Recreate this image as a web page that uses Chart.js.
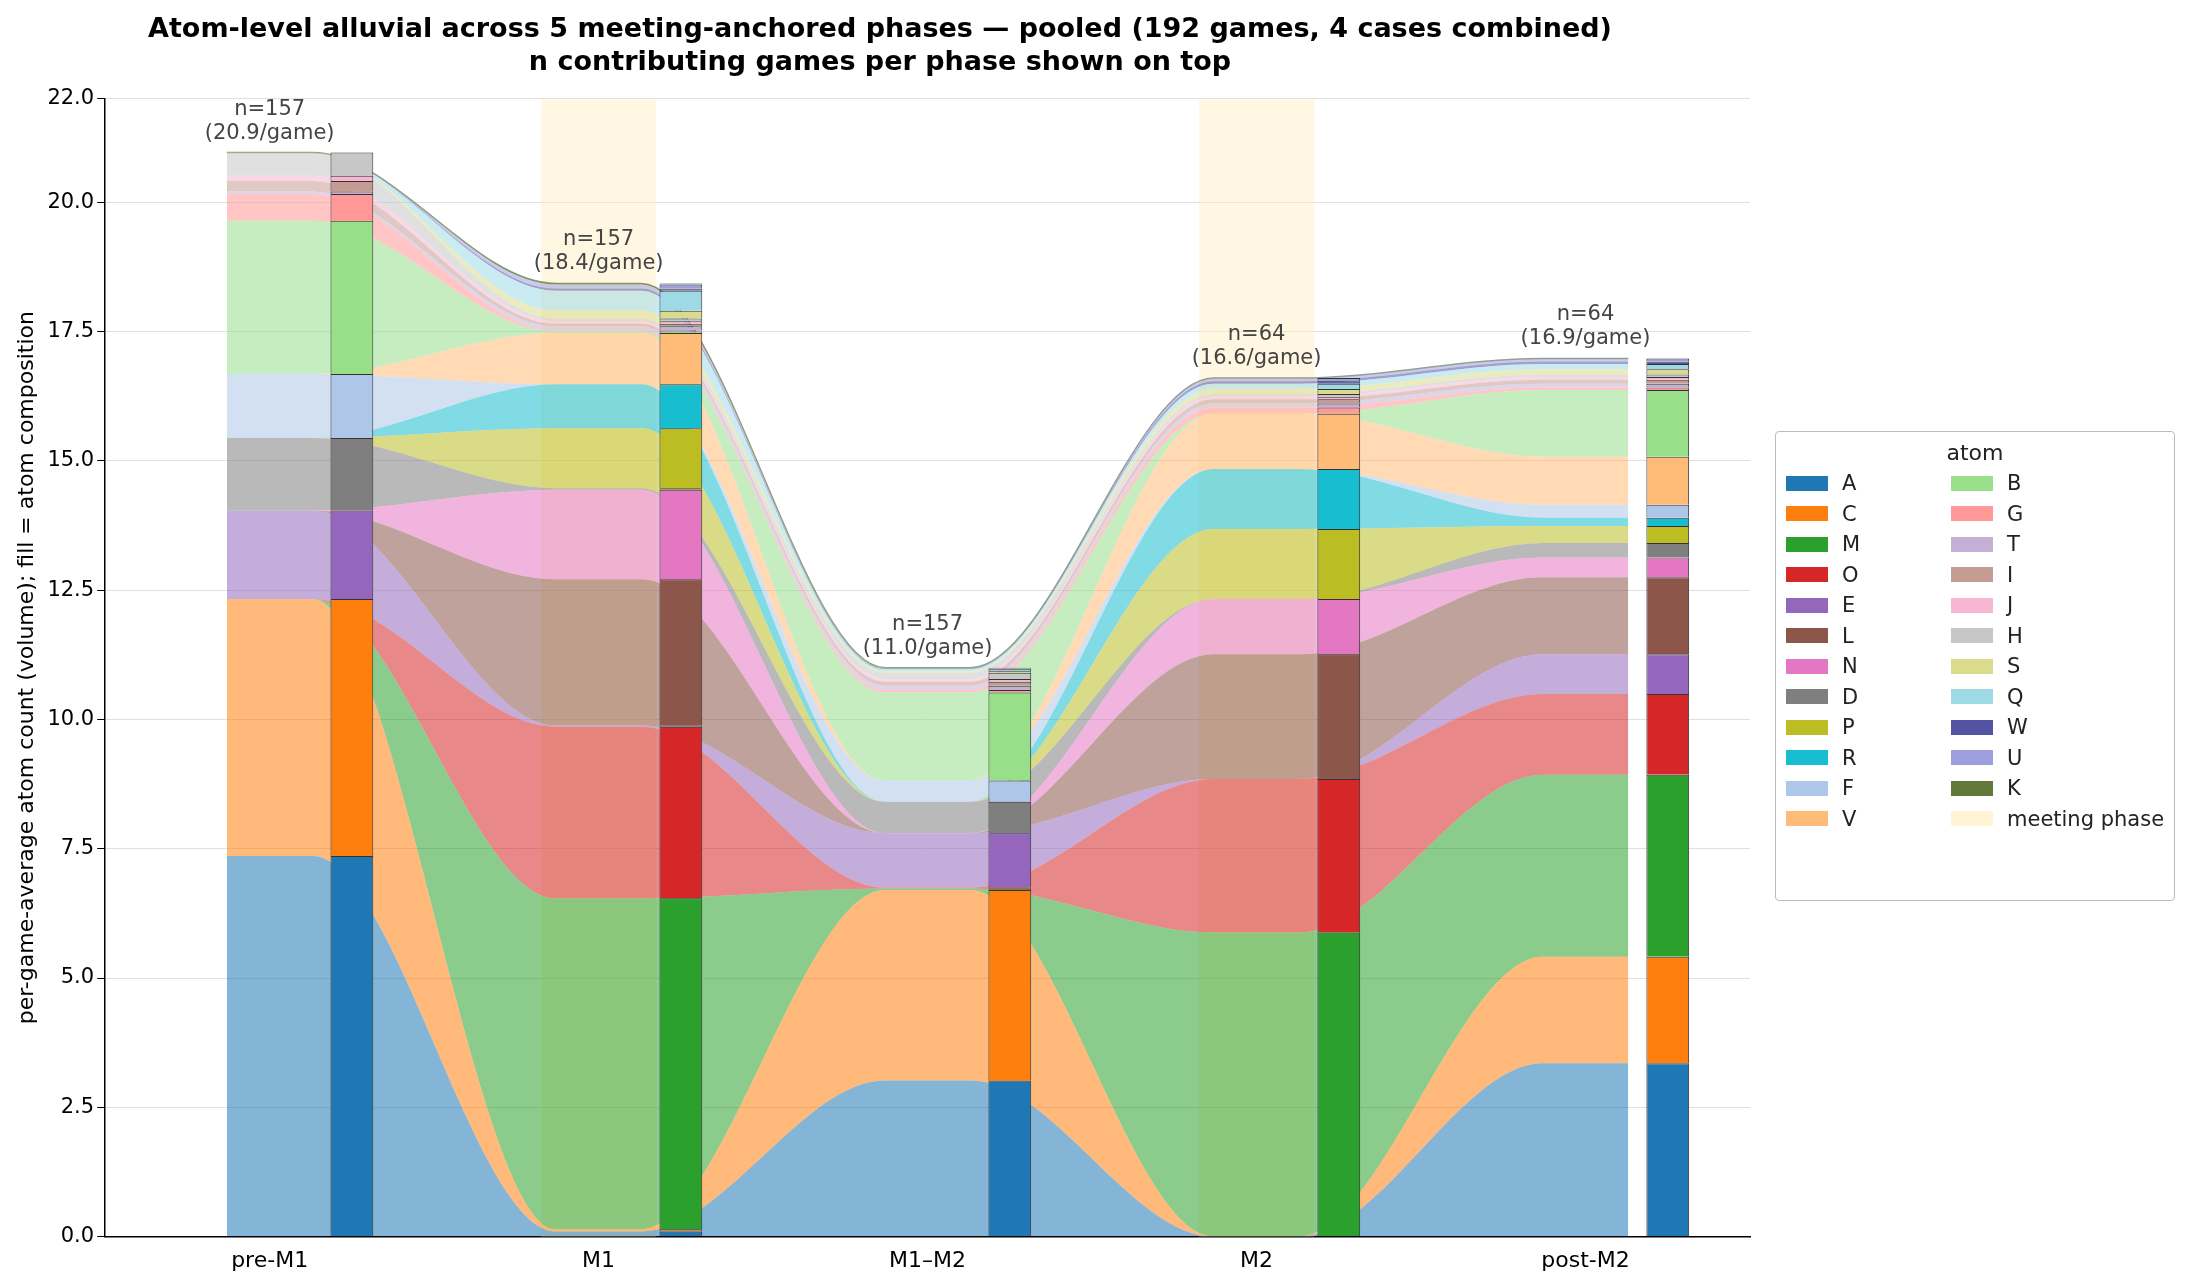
<!DOCTYPE html>
<html><head><meta charset="utf-8">
<script src="https://cdn.jsdelivr.net/npm/chart.js@4"></script>
<style>body{margin:0;background:#fff;font-family:"DejaVu Sans",sans-serif}
#wrap{position:absolute;left:0;top:0;width:2200px;height:1287px}
#leg{position:absolute;left:1775px;top:431px;width:400px;height:470px;border:1.5px solid #bbb;border-radius:4px;box-sizing:border-box;font-size:21px;color:#222;padding:8px 10px}
#leg .t{text-align:center;font-size:22px;margin-bottom:6px}
#leg .g{display:grid;grid-template-columns:165px 220px;row-gap:6.5px}
#leg .i{display:flex;align-items:center}
#leg .s{width:42px;height:15px;margin-right:14px;display:inline-block}
</style></head><body>
<div id="wrap"><canvas id="c"></canvas></div>
<div id="leg"><div class="t">atom</div><div class="g" id="lg"></div></div>
<script>
const phases=["pre-M1","M1","M1–M2","M2","post-M2"];
const nGames=[157,157,157,64,64];
const perGame=["20.9","18.4","11.0","16.6","16.9"];
const meetingPhases=[1,3];
const atoms=["A","C","M","O","E","L","N","D","P","R","F","V","B","G","T","I","J","H","S","Q","W","U","K"];
const colors=["#1f77b4","#ff7f0e","#2ca02c","#d62728","#9467bd","#8c564b","#e377c2","#7f7f7f","#bcbd22","#17becf","#aec7e8","#ffbb78","#98df8a","#ff9896","#c5b0d5","#c49c94","#f7b6d2","#c7c7c7","#dbdb8d","#9edae5","#5254a3","#9c9ede","#637939"];
// values per atom across phases [pre-M1, M1, M1–M2, M2, post-M2]
const A=[7.36,0.10,3.02,0.00,3.35];
const C=[4.97,0.04,3.68,0.00,2.06];
const M=[0.00,6.40,0.03,5.88,3.52];
const O=[0.00,3.32,0.02,2.97,1.56];
const E=[1.71,0.02,1.05,0.00,0.77];
const L=[0.00,2.83,0.00,2.41,1.49];
const N=[0.00,1.73,0.00,1.07,0.38];
const D=[1.40,0.03,0.61,0.00,0.28];
const P=[0.00,1.16,0.00,1.35,0.33];
const R=[0.00,0.85,0.00,1.16,0.16];
const F=[1.24,0.00,0.41,0.00,0.25];
const V=[0.00,0.99,0.00,1.07,0.93];
const B=[2.96,0.03,1.70,0.00,1.29];
const G=[0.52,0.02,0.05,0.12,0.05];
const T=[0.05,0.08,0.08,0.08,0.07];
const I=[0.20,0.05,0.08,0.08,0.08];
const J=[0.10,0.05,0.05,0.05,0.05];
const H=[0.45,0.05,0.12,0.05,0.05];
const S=[0.00,0.15,0.03,0.10,0.10];
const Q=[0.00,0.39,0.04,0.10,0.10];
const W=[0.00,0.04,0.01,0.05,0.05];
const U=[0.00,0.08,0.02,0.06,0.06];
const K=[0.00,0.02,0.00,0.00,0.00];
const series=[A,C,M,O,E,L,N,D,P,R,F,V,B,G,T,I,J,H,S,Q,W,U,K];
const HW=0.13;
function hexA(h,a){const r=parseInt(h.slice(1,3),16),g=parseInt(h.slice(3,5),16),b=parseInt(h.slice(5,7),16);return `rgba(${r},${g},${b},${a})`;}
const ds=[];
series.forEach((v,k)=>{
  const pts=[];v.forEach((y,i)=>{pts.push({x:i-HW,y:y});pts.push({x:i+HW,y:y});});
  ds.push({type:'line',label:atoms[k],data:pts,xAxisID:'x',yAxisID:'y',stack:'flow',
    fill:k===0?'origin':'-1',backgroundColor:hexA(colors[k],0.55),borderColor:hexA(colors[k],0.7),borderWidth:k===series.length-1?1.5:0,
    pointRadius:0,cubicInterpolationMode:'monotone',order:2});
});
series.forEach((v,k)=>{
  ds.push({type:'bar',label:atoms[k]+'_bar',data:v,xAxisID:'xb',yAxisID:'y',stack:'bars',
    backgroundColor:colors[k],borderColor:'#333',borderWidth:v.map(x=>x>0.005?1:0),barPercentage:0.26,categoryPercentage:1,order:1});
});
const deco={id:'deco',
 beforeDatasetsDraw(ch){const {ctx,scales:{x,y}}=ch;ctx.save();ctx.fillStyle='rgba(255,236,179,0.4)';
  meetingPhases.forEach(i=>{const l=x.getPixelForValue(i-0.175),r=x.getPixelForValue(i+0.175);ctx.fillRect(l,y.top,r-l,y.bottom-y.top);});ctx.restore();},
 afterDatasetsDraw(ch){const {ctx,scales:{x,y}}=ch;ctx.save();ctx.fillStyle='#444';ctx.font='21px "DejaVu Sans"';ctx.textAlign='center';
  phases.forEach((p,i)=>{let tot=0;series.forEach(s=>tot+=s[i]);const px=x.getPixelForValue(i),py=y.getPixelForValue(tot);
   ctx.fillText('n='+nGames[i],px,py-38);ctx.fillText('('+perGame[i]+'/game)',px,py-14);});ctx.restore();}};
new Chart(document.getElementById('c'),{data:{labels:phases,datasets:ds},plugins:[deco],
 options:{responsive:true,maintainAspectRatio:false,animation:false,
  layout:{padding:{left:10,right:450,top:0,bottom:10}},
  plugins:{legend:{display:false},tooltip:{enabled:false},
   title:{display:true,text:['Atom-level alluvial across 5 meeting-anchored phases — pooled (192 games, 4 cases combined)','n contributing games per phase shown on top'],font:{size:27,weight:'bold',family:'DejaVu Sans'},color:'#000',padding:{top:14,bottom:20},lineHeight:1.2}},
  scales:{
   x:{type:'linear',min:-0.5,max:4.5,stacked:true,grid:{display:false},border:{color:'#000',width:1.5},
      afterBuildTicks(s){s.ticks=phases.map((p,i)=>({value:i}));},
      ticks:{callback:(v)=>phases[v],font:{size:22,family:'DejaVu Sans'},color:'#000'}},
   xb:{type:'category',display:false,stacked:true,offset:true},
   y:{stacked:true,min:0,max:22,border:{color:'#000',width:1.5},
      grid:{color:'rgba(0,0,0,0.12)',lineWidth:1,borderDash:[2,4],drawTicks:true,tickColor:'#000',tickLength:8},
      ticks:{stepSize:2.5,callback:v=>v.toFixed(1),font:{size:21,family:'DejaVu Sans'},color:'#000'},
      title:{display:true,text:'per-game-average atom count (volume); fill = atom composition',font:{size:22,family:'DejaVu Sans'},color:'#000'}}
  }}});
const lg=document.getElementById('lg');
const order=[0,1,2,3,4,5,6,7,8,9,10,11];
const col2=[12,13,14,15,16,17,18,19,20,21,22];
for(let r=0;r<12;r++){
  [r,r+12].forEach(k=>{const d=document.createElement('div');d.className='i';
   if(k<atoms.length){d.innerHTML=`<span class="s" style="background:${colors[k]}"></span>${atoms[k]}`;}
   else{d.innerHTML=`<span class="s" style="background:rgba(255,236,179,0.55)"></span>meeting phase`;}
   lg.appendChild(d);});
}
</script></body></html>
